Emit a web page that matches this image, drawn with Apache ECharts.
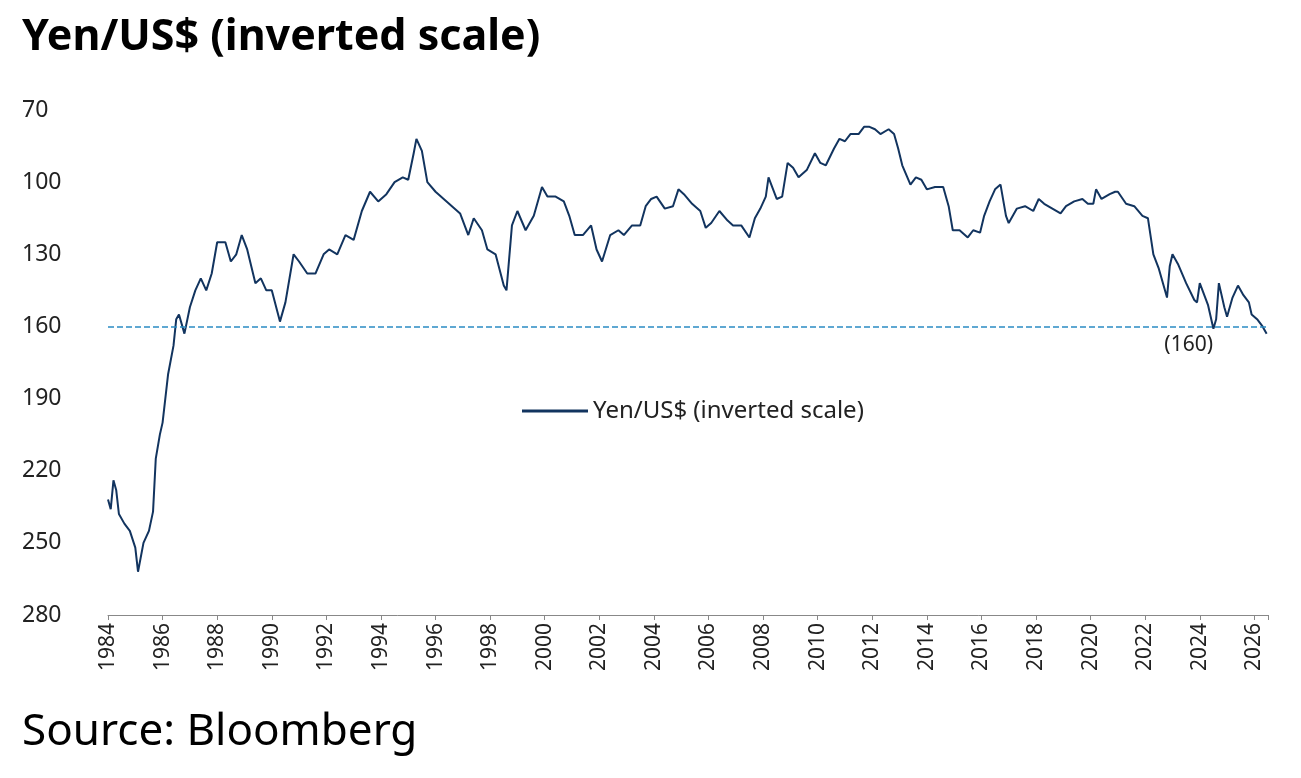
<!DOCTYPE html>
<html>
<head>
    <meta charset="utf-8">
    <title>Yen/US$</title>
    <script src="https://cdn.jsdelivr.net/npm/echarts@6/dist/echarts.min.js"></script>
    <style>body{margin:0;background:#fff}</style>
</head>
<body>
    <div id="main" style="width:1301px;height:778px;"></div>
    <script type="text/javascript">
        var myChart = echarts.init(document.getElementById('main'));
        // [year, yen per dollar]
        var data = [
            [1984.0,232],[1984.1,236],[1984.2,224],[1984.3,228],[1984.4,238],[1984.6,242],[1984.8,245],[1985.0,252],[1985.1,262],
            [1985.3,250],[1985.5,245],[1985.65,237],[1985.75,215],[1985.9,205],[1986.0,200],[1986.2,180],[1986.4,168],
            [1986.5,157],[1986.6,155],[1986.8,163],[1987.0,152],[1987.2,145],[1987.4,140],[1987.6,145],[1987.8,138],
            [1988.0,125],[1988.3,125],[1988.5,133],[1988.7,130],[1988.9,122],[1989.1,128],[1989.4,142],[1989.6,140],
            [1989.8,145],[1990.0,145],[1990.3,158],[1990.5,150],[1990.8,130],[1991.0,133],[1991.3,138],[1991.6,138],
            [1991.9,130],[1992.1,128],[1992.4,130],[1992.7,122],[1993.0,124],[1993.3,112],[1993.6,104],[1993.9,108],
            [1994.2,105],[1994.5,100],[1994.8,98],[1995.0,99],[1995.2,88],[1995.3,82],[1995.5,87],[1995.7,100],
            [1996.0,104],[1996.3,107],[1996.6,110],[1996.9,113],[1997.2,122],[1997.4,115],[1997.7,120],[1997.9,128],
            [1998.2,130],[1998.5,143],[1998.6,145],[1998.8,118],[1999.0,112],[1999.3,120],[1999.6,114],[1999.9,102],
            [2000.1,106],[2000.4,106],[2000.7,108],[2000.9,114],[2001.1,122],[2001.4,122],[2001.7,118],[2001.9,128],
            [2002.1,133],[2002.4,122],[2002.7,120],[2002.9,122],[2003.2,118],[2003.5,118],[2003.7,110],[2003.9,107],
            [2004.1,106],[2004.4,111],[2004.7,110],[2004.9,103],[2005.1,105],[2005.4,109],[2005.7,112],[2005.9,119],
            [2006.1,117],[2006.4,112],[2006.7,116],[2006.9,118],[2007.2,118],[2007.5,123],[2007.7,115],[2007.9,111],
            [2008.1,106],[2008.2,98],[2008.5,107],[2008.7,106],[2008.9,92],[2009.1,94],[2009.3,98],[2009.6,95],
            [2009.9,88],[2010.1,92],[2010.3,93],[2010.6,86],[2010.8,82],[2011.0,83],[2011.2,80],[2011.5,80],
            [2011.7,77],[2011.9,77],[2012.1,78],[2012.3,80],[2012.6,78],[2012.8,80],[2012.95,86],[2013.1,93],
            [2013.4,101],[2013.6,98],[2013.8,99],[2014.0,103],[2014.3,102],[2014.6,102],[2014.8,110],[2014.95,120],
            [2015.2,120],[2015.5,123],[2015.7,120],[2015.95,121],[2016.1,114],[2016.3,108],[2016.5,103],[2016.7,101],
            [2016.9,114],[2017.0,117],[2017.3,111],[2017.6,110],[2017.9,112],[2018.1,107],[2018.3,109],[2018.6,111],
            [2018.9,113],[2019.1,110],[2019.4,108],[2019.7,107],[2019.9,109],[2020.1,109],[2020.2,103],[2020.4,107],
            [2020.7,105],[2020.9,104],[2021.0,104],[2021.3,109],[2021.6,110],[2021.9,114],[2022.1,115],[2022.3,130],
            [2022.5,136],[2022.8,148],[2022.9,135],[2023.0,130],[2023.2,134],[2023.5,142],[2023.8,149],[2023.9,150],
            [2024.0,142],[2024.3,151],[2024.5,161],[2024.6,157],[2024.7,142],[2024.9,152],[2025.0,156],[2025.2,148],
            [2025.4,143],[2025.6,147],[2025.8,150],[2025.9,155],[2026.1,157],[2026.3,160],[2026.45,163]
        ];
        var option = {
            backgroundColor: '#fff',
            textStyle: { fontFamily: 'Noto Sans' },
            graphic: [
                { type: 'text', left: 22, top: 16, style: { text: 'Yen/US$ (inverted scale)', font: 'bold 43px "Noto Sans"', fill: '#000' } },
                { type: 'text', left: 22, top: 710, style: { text: 'Source: Bloomberg', font: '44px "Noto Sans"', fill: '#000' } }
            ],
            legend: {
                left: 517, top: 394,
                itemWidth: 66, itemHeight: 3,
                icon: 'rect',
                textStyle: { fontSize: 24, color: '#222' },
                data: ['Yen/US$ (inverted scale)']
            },
            grid: { left: 108, right: 33, top: 110, bottom: 163 },
            xAxis: {
                type: 'value',
                min: 1984, max: 2026.5, interval: 2,
                splitLine: { show: false },
                axisLine: { lineStyle: { color: '#888' } },
                axisTick: { show: true, lineStyle: { color: '#888' } },
                axisLabel: {
                    rotate: 90, fontSize: 21, color: '#222',
                    formatter: function (v) { return v % 2 === 0 ? String(v) : ''; }
                }
            },
            yAxis: {
                type: 'value',
                inverse: true,
                min: 70, max: 280, interval: 30,
                splitLine: { show: false },
                axisLine: { show: false },
                axisTick: { show: false },
                axisLabel: { fontSize: 23, color: '#222', align: 'left', margin: 86 }
            },
            series: [{
                name: 'Yen/US$ (inverted scale)',
                type: 'line',
                symbol: 'none',
                color: '#12345f',
                lineStyle: { width: 2, color: '#12345f' },
                data: data,
                markLine: {
                    silent: true,
                    symbol: 'none',
                    lineStyle: { type: 'dashed', color: '#2b8cc4', width: 1.5 },
                    label: { show: true, position: 'insideEndBottom', formatter: '(160)', fontSize: 21, color: '#222', distance: [55, 8] },
                    data: [{ yAxis: 160 }]
                }
            }]
        };
        myChart.setOption(option);
    </script>
</body>
</html>
